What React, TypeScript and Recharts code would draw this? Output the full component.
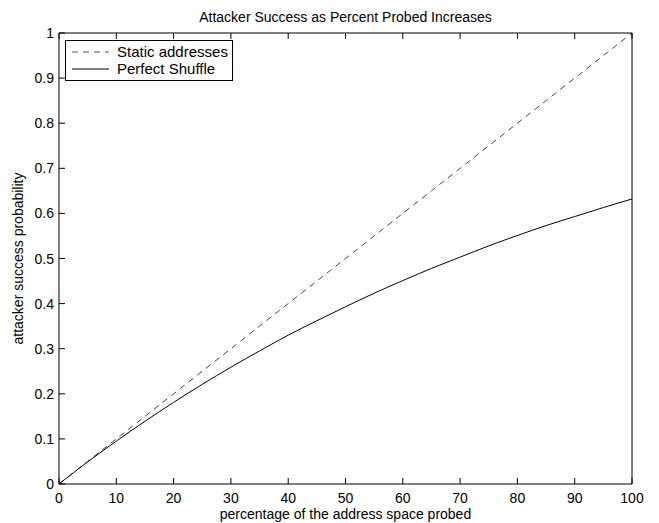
import React from "react";
import { LineChart, Line, XAxis, YAxis } from "recharts";

const percentProbed = [0, 5, 10, 15, 20, 25, 30, 35, 40, 45, 50, 55, 60, 65, 70, 75, 80, 85, 90, 95, 100];
const staticAddresses = [0, 0.05, 0.1, 0.15, 0.2, 0.25, 0.3, 0.35, 0.4, 0.45, 0.5, 0.55, 0.6, 0.65, 0.7, 0.75, 0.8, 0.85, 0.9, 0.95, 1.0];
const perfectShuffle = [0, 0.049, 0.095, 0.139, 0.181, 0.221, 0.259, 0.295, 0.33, 0.362, 0.393, 0.423, 0.451, 0.478, 0.503, 0.528, 0.551, 0.573, 0.593, 0.613, 0.632];
const xTicks = [0, 10, 20, 30, 40, 50, 60, 70, 80, 90, 100];
const yTicks = [0, 0.1, 0.2, 0.3, 0.4, 0.5, 0.6, 0.7, 0.8, 0.9, 1];
const yTickLabels = ["0", "0.1", "0.2", "0.3", "0.4", "0.5", "0.6", "0.7", "0.8", "0.9", "1"];
const seriesNames = ["Static addresses", "Perfect Shuffle"];

const data = percentProbed.map((p, i) => ({ p, s: staticAddresses[i], f: perfectShuffle[i] }));

const FONT = "'Liberation Sans', Arial, Helvetica, sans-serif";
const TL = 6;

const BottomTick = (props: any) => {
  const { x, y, payload } = props;
  return (
    <g>
      <line x1={x} x2={x} y1={y} y2={y - TL} stroke="#000" />
      <text x={x} y={y + 19} textAnchor="middle" fontSize={14} fontFamily={FONT} fill="#000">
        {payload.value}
      </text>
    </g>
  );
};
const TopTick = (props: any) => {
  const { x, y } = props;
  return <line x1={x} x2={x} y1={y} y2={y + TL} stroke="#000" />;
};
const LeftTick = (props: any) => {
  const { x, y, payload } = props;
  const idx = yTicks.findIndex((t) => Math.abs(t - payload.value) < 1e-9);
  return (
    <g>
      <line x1={x} x2={x + TL} y1={y} y2={y} stroke="#000" />
      <text x={x - 5} y={y + 5} textAnchor="end" fontSize={14} fontFamily={FONT} fill="#000">
        {idx >= 0 ? yTickLabels[idx] : payload.value}
      </text>
    </g>
  );
};
const RightTick = (props: any) => {
  const { x, y } = props;
  return <line x1={x} x2={x - TL} y1={y} y2={y} stroke="#000" />;
};

const LegendBox = () => (
  <div
    style={{
      position: "absolute",
      left: 65,
      top: 40,
      border: "1px solid #000",
      background: "#fff",
      width: 168,
      padding: "2px 0 3px 0",
      fontFamily: FONT,
      fontSize: 15,
      color: "#000",
      lineHeight: "17px",
      boxSizing: "border-box",
      textAlign: "left",
    }}
  >
    <div style={{ display: "flex", alignItems: "center" }}>
      <svg width={51} height={17}>
        <line x1={6} x2={43} y1={9} y2={9} stroke="#555" strokeWidth={1} strokeDasharray="6 5" />
      </svg>
      <span>{seriesNames[0]}</span>
    </div>
    <div style={{ display: "flex", alignItems: "center" }}>
      <svg width={51} height={17}>
        <line x1={6} x2={43} y1={9} y2={9} stroke="#000" strokeWidth={1} />
      </svg>
      <span>{seriesNames[1]}</span>
    </div>
  </div>
);

export default function App() {
  return (
    <div style={{ position: "absolute", left: 0, top: 0, width: 659, height: 523, background: "#fff" }}>
      <LineChart width={659} height={523} data={data} margin={{ top: 32, right: 26, bottom: 9, left: 19 }}>
        <XAxis
          xAxisId="b"
          dataKey="p"
          type="number"
          domain={[0, 100]}
          ticks={xTicks}
          interval={0}
          height={30}
          tickSize={0}
          tickMargin={0}
          axisLine={{ stroke: "#000" }}
          tickLine={false}
          tick={<BottomTick />}
          label={(p: any) => {
            const vb = p.viewBox || {};
            return (
              <text x={vb.x + vb.width / 2} y={vb.y + 35} textAnchor="middle" fontSize={14} fontFamily={FONT} fill="#000">
                percentage of the address space probed
              </text>
            );
          }}
        />
        <XAxis
          xAxisId="t"
          orientation="top"
          dataKey="p"
          type="number"
          domain={[0, 100]}
          ticks={xTicks}
          interval={0}
          height={1}
          tickSize={0}
          tickMargin={0}
          axisLine={{ stroke: "#000" }}
          tickLine={false}
          tick={<TopTick />}
          label={(p: any) => {
            const vb = p.viewBox || {};
            return (
              <text x={vb.x + vb.width / 2} y={22} textAnchor="middle" fontSize={14} fontFamily={FONT} fill="#000">
                Attacker Success as Percent Probed Increases
              </text>
            );
          }}
        />
        <YAxis
          yAxisId="l"
          type="number"
          domain={[0, 1]}
          ticks={yTicks}
          interval={0}
          width={40}
          tickSize={0}
          tickMargin={0}
          axisLine={{ stroke: "#000" }}
          tickLine={false}
          tick={<LeftTick />}
          label={(p: any) => {
            const vb = p.viewBox || {};
            const cx = vb.x + vb.width - 36;
            const cy = vb.y + vb.height / 2;
            return (
              <text x={cx} y={cy} transform={`rotate(-90 ${cx} ${cy})`} textAnchor="middle" fontSize={14} fontFamily={FONT} fill="#000">
                attacker success probability
              </text>
            );
          }}
        />
        <YAxis
          yAxisId="r"
          orientation="right"
          type="number"
          domain={[0, 1]}
          ticks={yTicks}
          interval={0}
          width={1}
          tickSize={0}
          tickMargin={0}
          axisLine={{ stroke: "#000" }}
          tickLine={false}
          tick={<RightTick />}
        />
        <Line
          xAxisId="b"
          yAxisId="l"
          dataKey="s"
          name={seriesNames[0]}
          stroke="#444"
          strokeWidth={1}
          strokeDasharray="6 5"
          dot={false}
          type="linear"
          isAnimationActive={false}
        />
        <Line
          xAxisId="b"
          yAxisId="l"
          dataKey="f"
          name={seriesNames[1]}
          stroke="#000"
          strokeWidth={1}
          dot={false}
          type="monotone"
          isAnimationActive={false}
        />
      </LineChart>
      <LegendBox />
    </div>
  );
}
